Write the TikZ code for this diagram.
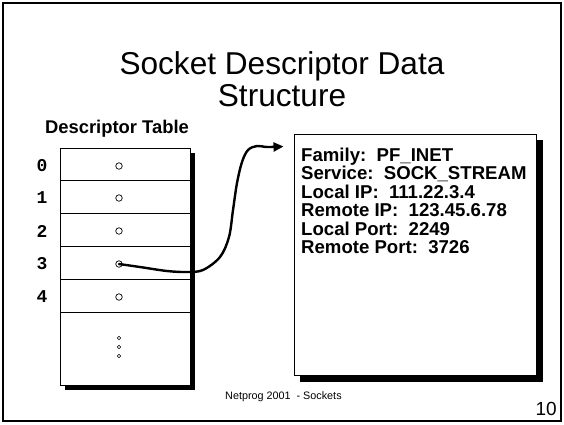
\documentclass[tikz,border=0pt]{standalone}
\usepackage{fontspec}
\setmainfont{Liberation Sans}
\newfontfamily\monof{Liberation Mono}
\usetikzlibrary{arrows.meta,calc}
\begin{document}
\begin{tikzpicture}[x=1pt,y=-1pt,
  rowbox/.style={draw,fill=white,line width=1pt,minimum width=130pt,minimum height=32.8pt,inner sep=0pt},
  slot/.style={circle,draw,line width=0.7pt,minimum size=6.5pt,inner sep=0pt},
  tinydot/.style={circle,draw,line width=0.6pt,minimum size=3.6pt,inner sep=0pt},
  idx/.style={font=\monof\bfseries\fontsize{18}{18}\selectfont,inner sep=0pt},
  info/.style={font=\bfseries\fontsize{18.6}{18.6}\selectfont,anchor=base west,inner sep=0pt},
  shadow/.style={fill=black}]
\useasboundingbox (0,0) rectangle (564,424);
\draw[line width=1.5pt] (3,3) rectangle (561,421);
% title
\node[font=\fontsize{31.6}{32}\selectfont,anchor=base,inner sep=0pt] (t1) at (282,74) {Socket Descriptor Data};
\node[font=\fontsize{31.6}{32}\selectfont,anchor=base,inner sep=0pt] (t2) at (282,106) {Structure};
% table
\node[font=\bfseries\fontsize{18.4}{18}\selectfont,anchor=base,inner sep=0pt] (thead) at (117,133) {Descriptor Table};
\fill[shadow] (65,153) rectangle (195,390);
\node[rowbox] (r0) at (125,164.4) {};
\node[rowbox] (r1) at (125,197.2) {};
\node[rowbox] (r2) at (125,230.0) {};
\node[rowbox] (r3) at (125,262.8) {};
\node[rowbox] (r4) at (125,295.6) {};
\node[rowbox,minimum height=73pt] (r5) at (125,348.5) {};
\foreach \i/\y in {0/166,1/198,2/231,3/264,4/297}{
  \node[slot] (c\i) at (119,\y) {};
  \node[idx] (n\i) at (42,\y) {\i};
}
\node[tinydot] (d1) at (119,338) {};
\node[tinydot] (d2) at (119,347) {};
\node[tinydot] (d3) at (119,356) {};
% info box
\fill[shadow] (300,140) rectangle (543,382);
\node[draw,fill=white,line width=1pt,minimum width=242pt,minimum height=241pt,inner sep=0pt] (ibox) at (415,254.5) {};
\node[info] (l1) at (301,161) {Family:\ \ PF\_INET};
\node[info] (l2) at (301,179.5) {Service:\ \ SOCK\_STREAM};
\node[info] (l3) at (301,198) {Local IP:\ \ 111.22.3.4};
\node[info] (l4) at (301,216.5) {Remote IP:\ \ 123.45.6.78};
\node[info] (l5) at (301,235) {Local Port:\ \ 2249};
\node[info] (l6) at (301,253.5) {Remote Port:\ \ 3726};
% arrow
\coordinate (tip) at ($(ibox.north west)+(-10,13)$);
\draw[line width=2.4pt,line cap=round,-{Triangle[length=10pt,width=9pt]}]
  plot[smooth,tension=0.55] coordinates {(c3) (140,267) (167,271) (187,272) (203,270) (220,257) (229,237) (233,210) (237,183) (242,162) (248,150) (257,146) (267,147) (tip)};
% footer
\node[font=\fontsize{10.8}{12}\selectfont,anchor=base west,inner sep=0pt] (foot) at (225,399) {Netprog 2001\ \ - Sockets};
\node[font=\fontsize{19}{20}\selectfont,anchor=base east,inner sep=0pt] (pnum) at (557,415) {10};
\end{tikzpicture}
\end{document}
